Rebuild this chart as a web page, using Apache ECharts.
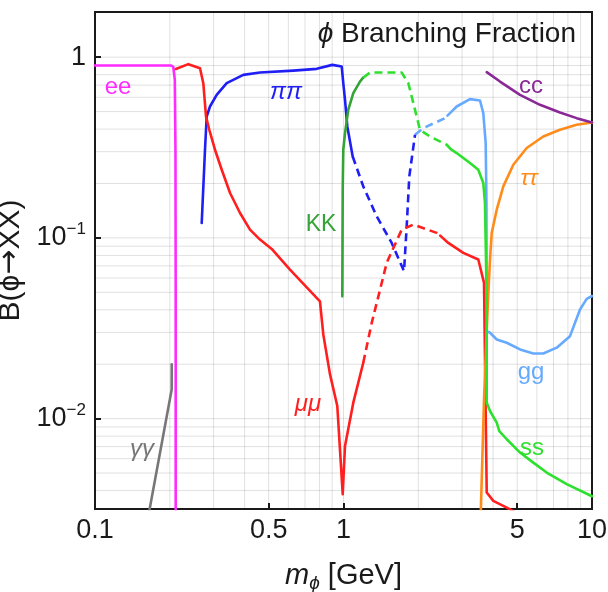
<!DOCTYPE html>
<html><head><meta charset="utf-8">
<script src="https://cdn.jsdelivr.net/npm/echarts@6/dist/echarts.min.js"></script>
<style>html,body{margin:0;padding:0;background:#fff}#c{width:608px;height:592px}</style>
</head><body><div id="c"></div>
<script>
// ---- tick labels and grid values ----
const xTickLabels = [0.1, 0.5, 1, 5, 10];
const yTickLabels = [0.01, 0.1, 1];
const xGridLines = [0.2,0.3,0.4,0.5,0.6,0.7,0.8,0.9,1,2,3,4,5,6,7,8,9];
const yGridLines = [0.004,0.005,0.006,0.007,0.008,0.009,0.01,0.02,0.03,0.04,0.05,0.06,0.07,0.08,0.09,0.1,0.2,0.3,0.4,0.5,0.6,0.7,0.8,0.9,1];
const X_MIN = 0.1, X_MAX = 10, Y_MIN = Math.pow(10,-2.5), Y_MAX = Math.pow(10,0.25);

// ---- series values [m_phi (GeV), branching fraction] ----
const ee = [[0.1,0.9],[0.202,0.9],[0.2065,0.885],[0.2095,0.75],[0.2108,0.3],[0.2112,0.05],[0.2112,0.001]];
const gammaGamma = [[0.1655,0.0031],[0.2035,0.0145],[0.2036,0.02]];
const muMuA = [[0.2115,0.86],[0.2374,0.915],[0.2646,0.869],[0.2728,0.718],[0.2797,0.47],[0.2884,0.3966],[0.304,0.3076],[0.3236,0.2384],[0.3495,0.1772],[0.3834,0.1374],[0.4204,0.1111],[0.4613,0.0979],[0.5142,0.0869],[0.609,0.0668],[0.804,0.0446],[0.8293,0.02923],[0.8825,0.01757],[0.9442,0.01174],[0.9927,0.00382],[1.014,0.00706],[1.095,0.01226],[1.201,0.02039]];
const muMuDashed = [[1.201,0.02039],[1.299,0.0339],[1.403,0.0517],[1.492,0.0728],[1.715,0.1111],[1.909,0.1185],[2.371,0.1066],[2.45,0.103]];
const muMuB = [[2.45,0.103],[2.641,0.0938],[3.034,0.0826],[3.487,0.0759],[3.677,0.0564],[3.77,0.0039],[4.007,0.003505],[4.538,0.00322],[5.2,0.0029]];
const piPi = [[0.2688,0.121],[0.2703,0.1433],[0.2771,0.3075],[0.2815,0.4697],[0.2902,0.5334],[0.3088,0.619],[0.3388,0.7186],[0.3953,0.798],[0.4613,0.822],[0.6283,0.843],[0.78,0.862],[0.9013,0.9067],[0.9835,0.887],[0.998,0.7186],[1.014,0.5808],[1.036,0.4136],[1.089,0.2823]];
const piPiDashed = [[1.089,0.2823],[1.201,0.1928],[1.36,0.1316],[1.563,0.0938],[1.752,0.0654],[1.796,0.1159],[1.84,0.2189],[1.94,0.372]];
const ggDashed = [[1.94,0.372],[2.095,0.405],[2.562,0.46],[2.62,0.475]];
const gg = [[2.62,0.475],[2.683,0.4905],[2.854,0.5334],[3.228,0.586],[3.543,0.5757],[3.652,0.4905],[3.734,0.3349],[3.76,0.16],[3.77,0.0305],[3.887,0.02986],[4.136,0.02742],[4.538,0.0263],[5.133,0.02415],[5.805,0.02295],[6.368,0.02295],[7.211,0.0247],[8.155,0.0286],[8.949,0.0402],[9.52,0.046],[10,0.0477]];
const kk = [[0.989,0.0475],[0.9927,0.1849],[0.998,0.3075],[1.014,0.3803],[1.045,0.5114],[1.095,0.6326],[1.165,0.7329],[1.2,0.77]];
const kkDashed = [[1.2,0.77],[1.278,0.822],[1.715,0.822],[1.823,0.7186],[1.94,0.5114],[2.031,0.3966],[2.229,0.364],[2.602,0.3277],[2.7,0.31]];
const ss = [[2.7,0.31],[2.854,0.2948],[3.228,0.2597],[3.487,0.2384],[3.652,0.2013],[3.709,0.156],[3.77,0.0456],[3.77,0.01226],[3.887,0.01102],[4.136,0.0095],[4.236,0.00854],[4.538,0.00769],[5.133,0.00649],[5.805,0.00571],[6.57,0.00503],[7.91,0.00434],[10,0.00372]];
const cc = [[3.77,0.826],[4.264,0.733],[5.133,0.619],[6.176,0.545],[7.433,0.494],[8.676,0.46],[10,0.435]];
const tauTau = [[3.554,0.0025],[3.677,0.01278],[3.815,0.0456],[3.887,0.0759],[3.949,0.1066],[4.136,0.1433],[4.397,0.1928],[4.824,0.254],[5.46,0.3143],[6.368,0.364],[7.433,0.3966],[8.676,0.4227],[10,0.435]];

const FONT = '"Liberation Sans", Arial, sans-serif';
const INK = '#1a1a1a';
const C = {ee:'#ff2bff', gam:'#777777', mu:'#ff1f1f', pi:'#1f1ff5', kk:'#35a335', ss:'#2ee02e', gg:'#66aaff', cc:'#8a2896', tau:'#ff8c1a'};

function ln(data, color, dash, z) {
  return {type:'line', data, symbol:'none', showSymbol:false, silent:true, clip:true, animation:false, z: z || 3,
    lineStyle:{color, width:2.6, type: dash ? [8,5] : 'solid', cap: dash ? 'butt' : 'round', join:'round'}};
}
function gridSeries(data) {
  return {type:'line', data, symbol:'none', showSymbol:false, silent:true, clip:true, animation:false, z:1,
    lineStyle:{color:'rgba(0,0,0,0.12)', width:1, type:'solid'}};
}
const gridLineSeries = [
  ...xGridLines.map(v => gridSeries([[v, Y_MIN], [v, Y_MAX]])),
  ...yGridLines.map(v => gridSeries([[X_MIN, v], [X_MAX, v]]))
];

const chart = echarts.init(document.getElementById('c'), null, {renderer:'canvas'});
function lbl(text, x, y, color, size, italic) {
  return {type:'text', x, y, silent:true, z:10,
    style:{text, fill:color, font:(italic?'italic ':'') + size + 'px ' + FONT,
      align:'center', verticalAlign:'middle', textAlign:'center', textVerticalAlign:'middle'}};
}

chart.setOption({
  animation:false,
  backgroundColor:'#fff',
  grid:{left:95, right:16, top:12, bottom:83, containLabel:false, outerBoundsMode:'none',
    show:true, borderColor:INK, borderWidth:2, backgroundColor:'transparent'},
  title:{text:'{i|ϕ} Branching Fraction', right:27, top:15,
    textStyle:{fontFamily:FONT, fontSize:28, fontWeight:'normal', color:INK,
      rich:{i:{fontFamily:FONT, fontSize:28, fontStyle:'italic', color:INK}}}},
  xAxis:{type:'log', logBase:10, min:X_MIN, max:X_MAX,
    name:'{i|m}{s|ϕ}{r| [GeV]}', nameLocation:'middle', nameGap:50,
    nameTextStyle:{fontFamily:FONT, fontSize:29, color:INK,
      rich:{i:{fontFamily:FONT, fontSize:29, fontStyle:'italic', color:INK, lineHeight:34},
            s:{fontFamily:FONT, fontSize:19, fontStyle:'italic', color:INK, verticalAlign:'bottom'},
            r:{fontFamily:FONT, fontSize:29, color:INK, lineHeight:34}}},
    axisLine:{show:false, onZero:false}, splitLine:{show:false},
    axisTick:{show:true, inside:true, length:6, lineStyle:{color:INK, width:2}, customValues:xTickLabels},
    axisLabel:{show:true, fontFamily:FONT, fontSize:27, color:INK, margin:8, customValues:xTickLabels,
      formatter: v => String(Math.round(v*10)/10)}
  },
  yAxis:{type:'log', logBase:10, min:Y_MIN, max:Y_MAX,
    name:'{r|B(}{i|ϕ}{a|→}{r|XX)}', nameLocation:'middle', nameGap:58, nameRotate:90,
    nameTextStyle:{fontFamily:FONT, fontSize:30, color:INK,
      rich:{r:{fontFamily:FONT, fontSize:30, color:INK},
            i:{fontFamily:FONT, fontSize:30, color:INK},
            a:{fontFamily:'"DejaVu Sans", sans-serif', fontSize:30, color:INK}}},
    axisLine:{show:false, onZero:false}, splitLine:{show:false},
    axisTick:{show:true, inside:true, length:6, lineStyle:{color:INK, width:2}, customValues:yTickLabels},
    axisLabel:{show:true, fontFamily:FONT, fontSize:27, color:INK, margin:9, customValues:yTickLabels,
      formatter: v => { const e = Math.round(Math.log10(v)); return e === 0 ? '{b|1}' : '{b|10}{s|−' + (-e) + '}'; },
      rich:{b:{fontFamily:FONT, fontSize:27, color:INK, lineHeight:34},
            s:{fontFamily:FONT, fontSize:17, color:INK, verticalAlign:'top'}}}
  },
  series:[
    ...gridLineSeries,
    ln(gammaGamma, C.gam, false, 2),
    ln(gg, C.gg, false, 3),
    ln(ggDashed, C.gg, true, 3),
    ln(ee, C.ee, false, 4),
    ln(piPi, C.pi, false, 4),
    ln(piPiDashed, C.pi, true, 4),
    ln(muMuA, C.mu, false, 5),
    ln(muMuDashed, C.mu, true, 5),
    ln(muMuB, C.mu, false, 5),
    ln(tauTau, C.tau, false, 5),
    ln(kk, C.kk, false, 6),
    ln(kkDashed, C.ss, true, 6),
    ln(ss, C.ss, false, 6),
    ln(cc, C.cc, false, 6)
  ],
  graphic:[
    lbl('ee', 118, 87, C.ee, 24, false),
    lbl('ππ', 286, 92, C.pi, 24, true),
    lbl('KK', 321, 225, C.kk, 23, false),
    lbl('cc', 531, 86, C.cc, 24, false),
    lbl('ττ', 529, 179, C.tau, 23, true),
    lbl('gg', 531, 372, C.gg, 24, false),
    lbl('ss', 532, 448, C.ss, 24, false),
    lbl('μμ', 308, 404, C.mu, 24, true),
    lbl('γγ', 142, 449, C.gam, 24, true)
  ]
});
</script></body></html>
